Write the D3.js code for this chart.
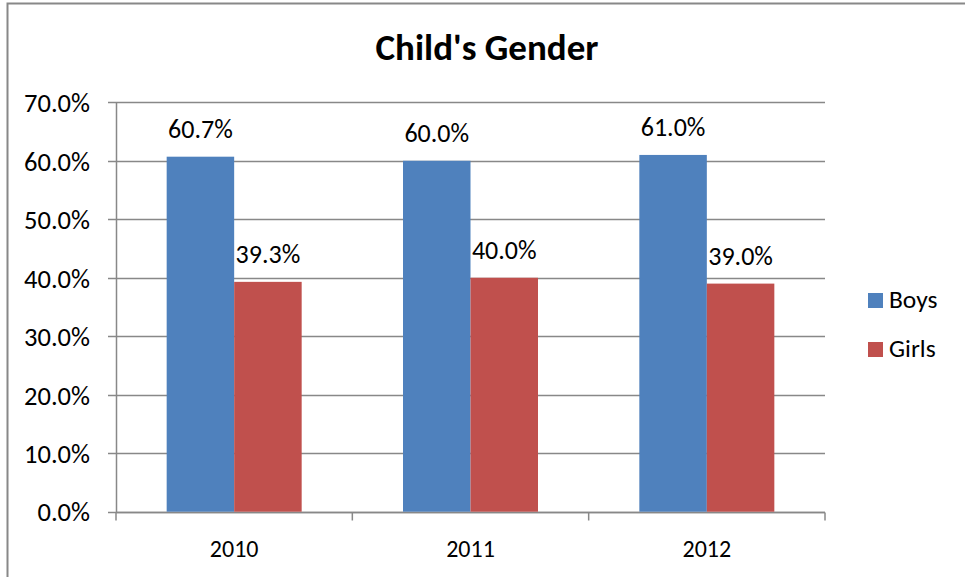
<!DOCTYPE html>
<html><head><meta charset="utf-8">
<script src="https://cdn.jsdelivr.net/npm/d3@7"></script>
<style>body{margin:0;background:#fff}svg{display:block}text{font-family:Carlito,Lato,"Open Sans",sans-serif;fill:#000}</style>
</head><body><svg id="c" width="965" height="577"></svg>
<script>
const categories = ["2010","2011","2012"];
const seriesNames = ["Boys","Girls"];
const boys = [60.7, 60.0, 61.0];
const girls = [39.3, 40.0, 39.0];
const yTicks = [0,10,20,30,40,50,60,70];
const colors = ["#4F81BD","#C0504D"];
const title = "Child's Gender";

const svg = d3.select("#c");
svg.append("rect").attr("x",7.5).attr("y",3.5).attr("width",1000).attr("height",1000)
  .attr("fill","#fff").attr("stroke","#888").attr("stroke-width",2);

const L=116, R=825, T=102.3, B=511.7;
const y = d3.scaleLinear().domain([0,70]).range([B,T]);
const p = 1-135/((R-L)/3);
const x0 = d3.scaleBand().domain(categories).range([L,R]).paddingInner(p).paddingOuter(p/2);
const x1 = d3.scaleBand().domain(seriesNames).range([0,x0.bandwidth()]);

// gridlines
svg.append("g").selectAll("line").data(yTicks).join("line")
  .attr("x1",L-8).attr("x2",R).attr("y1",d=>Math.round(y(d))+0.5).attr("y2",d=>Math.round(y(d))+0.5)
  .attr("stroke","#888").attr("stroke-width",1.5);

// y axis
const ya = svg.append("g").attr("transform",`translate(${L},0)`)
  .call(d3.axisLeft(y).tickValues(yTicks).tickFormat(d=>d.toFixed(1)+"%").tickSize(0).tickPadding(26));
ya.select(".domain").attr("stroke","#888").attr("stroke-width",1.5);
ya.selectAll("text").style("font-size","26.5px").attr("dy","0.35em");

// x axis
const xa = svg.append("g").attr("transform",`translate(0,${Math.round(B)+0.5})`);
xa.append("line").attr("x1",L).attr("x2",R).attr("stroke","#888").attr("stroke-width",1.5);
const bounds = categories.map(c=>x0(c)-x0.step()*p/2).concat([R]);
xa.selectAll("line.t").data(bounds).join("line").attr("class","t")
  .attr("x1",d=>d).attr("x2",d=>d).attr("y1",0).attr("y2",8).attr("stroke","#888").attr("stroke-width",1.5);
xa.selectAll("text").data(categories).join("text")
  .attr("x",d=>x0(d)+x0.bandwidth()/2).attr("y",44).attr("text-anchor","middle")
  .style("font-size","24px").text(d=>d);

// bars
const data = categories.map((c,i)=>({c, vals:[boys[i],girls[i]]}));
const g = svg.append("g").selectAll("g").data(data).join("g").attr("transform",d=>`translate(${x0(d.c)},0)`);
g.selectAll("rect").data(d=>d.vals.map((v,j)=>({v,s:seriesNames[j],j}))).join("rect")
  .attr("x",d=>x1(d.s)).attr("width",x1.bandwidth()).attr("y",d=>y(d.v)).attr("height",d=>B-y(d.v))
  .attr("fill",d=>colors[d.j]);
g.selectAll("text").data(d=>d.vals.map((v,j)=>({v,s:seriesNames[j],j}))).join("text")
  .attr("x",d=>x1(d.s)+x1.bandwidth()/2).attr("y",d=>y(d.v)-19).attr("text-anchor","middle")
  .style("font-size","26px").text(d=>d.v.toFixed(1)+"%");

// title
svg.append("text").attr("x",487).attr("y",60).attr("text-anchor","middle")
  .style("font-size","37px").style("font-weight","bold").text(title);

// legend
const lg = svg.append("g").selectAll("g").data(seriesNames).join("g")
  .attr("transform",(d,i)=>`translate(868,${293+i*49})`);
lg.append("rect").attr("width",15).attr("height",15).attr("fill",(d,i)=>colors[i]);
lg.append("text").attr("x",21).attr("y",15).style("font-size","25.5px").text(d=>d);
</script></body></html>
